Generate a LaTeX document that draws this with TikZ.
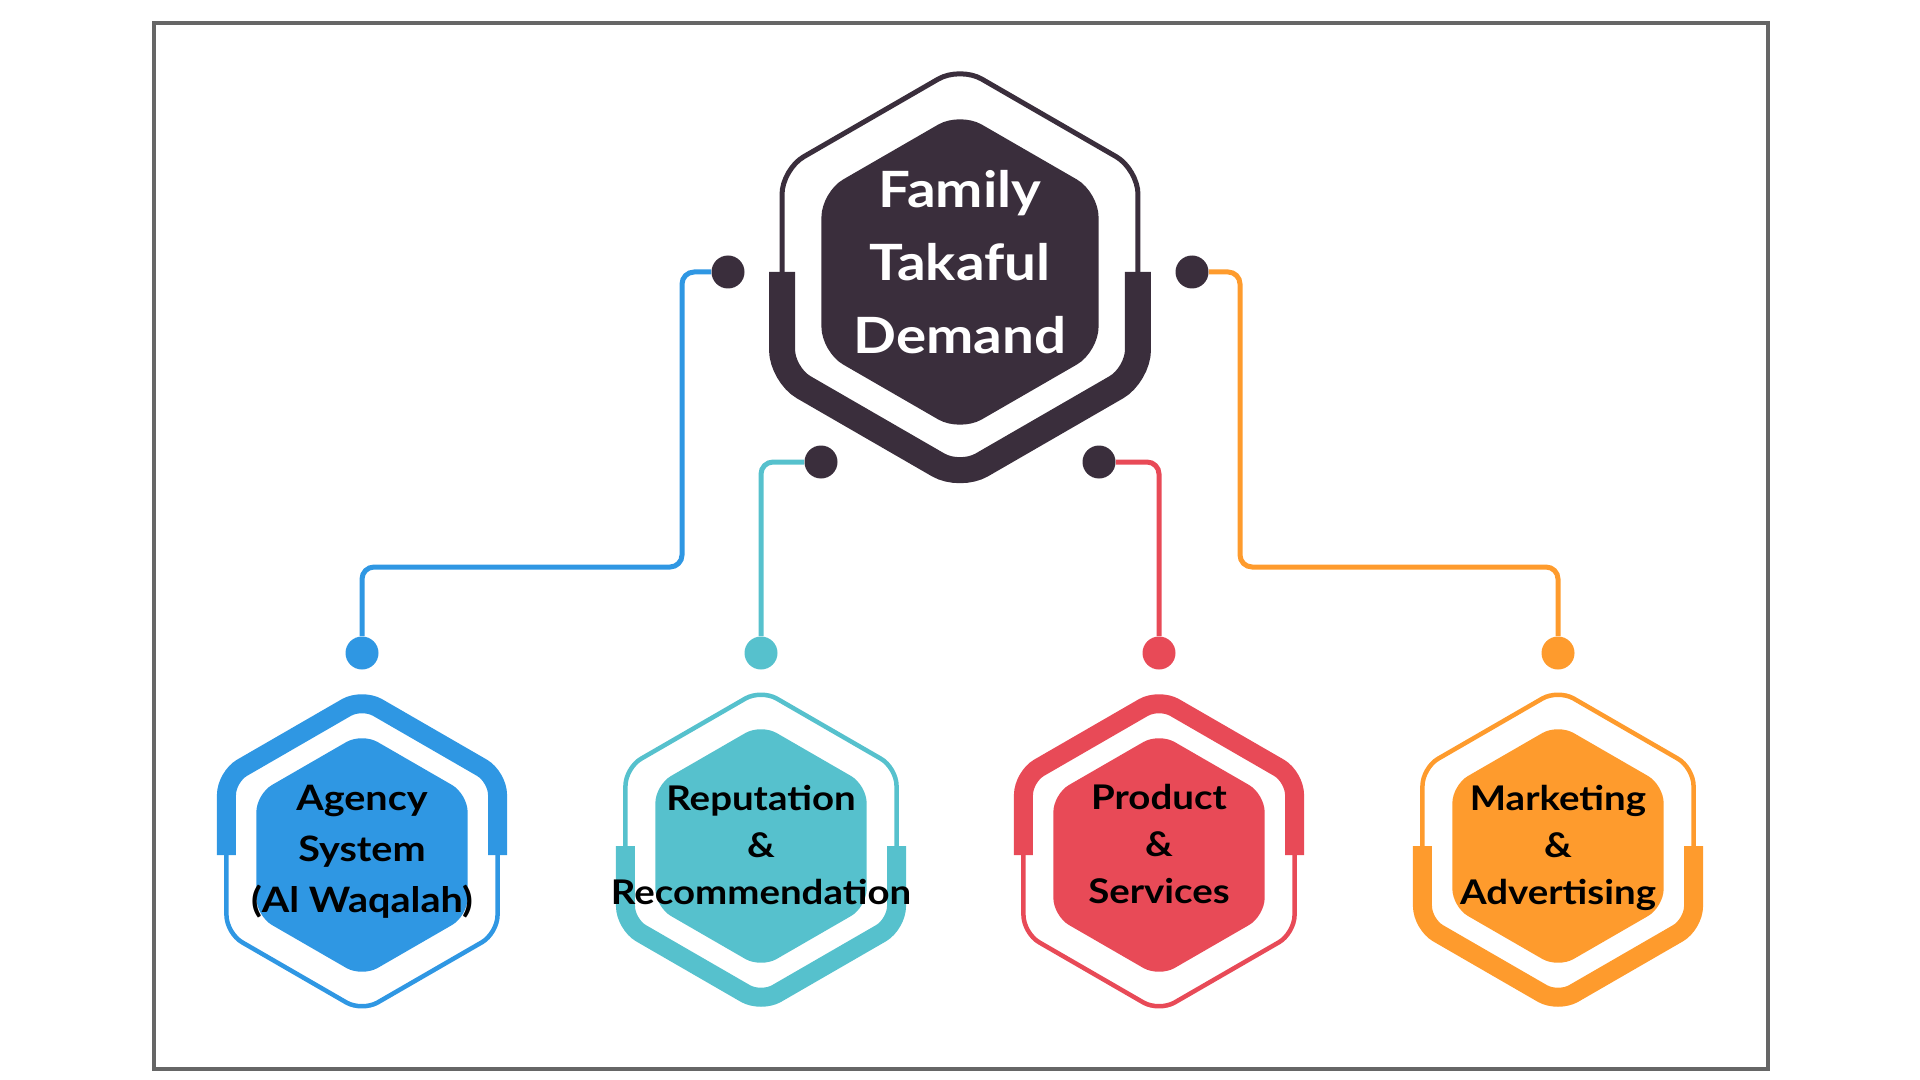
\documentclass[tikz,border=0pt]{standalone}
\usepackage{fontspec}
\setmainfont{Lato}[FakeStretch=1.13]
\definecolor{dk}{HTML}{3A2E3C}
\definecolor{cblue}{HTML}{2F97E3}
\definecolor{cteal}{HTML}{56C1CD}
\definecolor{cred}{HTML}{E84A57}
\definecolor{corange}{HTML}{FE9B2D}
\definecolor{framegray}{HTML}{666666}
% #1 cx, #2 cy, #3 R, #4 colour, #5 upper width, #6 lower width, #7 inner R, #8 corner radius
\newcommand\hexring[8]{%
  \pgfmathsetmacro\hw{0.8660254*#3}%
  \pgfmathsetmacro\hh{0.5*#3}%
  \pgfmathsetmacro\iw{0.8660254*#7}%
  \pgfmathsetmacro\ih{0.5*#7}%
  \draw[#4, line width=#5, rounded corners=#8]
    ({#1-\hw},{#2}) -- ({#1-\hw},{#2-\hh}) -- ({#1},{#2-#3}) -- ({#1+\hw},{#2-\hh}) -- ({#1+\hw},{#2});
  \draw[#4, line width=#6, rounded corners=#8]
    ({#1-\hw},{#2}) -- ({#1-\hw},{#2+\hh}) -- ({#1},{#2+#3}) -- ({#1+\hw},{#2+\hh}) -- ({#1+\hw},{#2});
  \fill[#4, rounded corners=#8]
    ({#1},{#2-#7}) -- ({#1+\iw},{#2-\ih}) -- ({#1+\iw},{#2+\ih}) -- ({#1},{#2+#7}) -- ({#1-\iw},{#2+\ih}) -- ({#1-\iw},{#2-\ih}) -- cycle;
}
\tikzset{
  dot/.style={circle, inner sep=0pt, minimum size=16.5pt},
  wire/.style={line width=2.5pt, rounded corners=6pt},
  maintext/.style={text=white, align=center, font=\fontsize{25pt}{36.5pt}\selectfont\bfseries},
  subtext/.style={text=black, align=center, font=\fontsize{17pt}{23.5pt}\selectfont\bfseries},
}
\begin{document}
\begin{tikzpicture}[x=0.5pt,y=-0.5pt]
\useasboundingbox (0,0) rectangle (1920,1080);
\draw[framegray, line width=1.75pt] (154,23) rectangle (1768,1069);

% hexagons
\hexring{960}{272}{205.5}{dk}{2.5pt}{13pt}{160}{12.5pt}
\hexring{362}{855}{156.5}{cblue}{9.5pt}{2.25pt}{122}{9pt}
\hexring{761}{846}{156.5}{cteal}{2.25pt}{9.5pt}{122}{9pt}
\hexring{1159}{855}{156.5}{cred}{9.5pt}{2.25pt}{122}{9pt}
\hexring{1558}{846}{156.5}{corange}{2.25pt}{9.5pt}{122}{9pt}

% dots
\node[dot, fill=dk] (dk1) at (728,272) {};
\node[dot, fill=dk] (dk2) at (1192,272) {};
\node[dot, fill=dk] (dk3) at (821,462) {};
\node[dot, fill=dk] (dk4) at (1099,462) {};
\node[dot, fill=cblue] (bd) at (362,653) {};
\node[dot, fill=cteal] (td) at (761,653) {};
\node[dot, fill=cred] (rd) at (1159,653) {};
\node[dot, fill=corange] (od) at (1558,653) {};
\coordinate (bbend) at (682,567);
\coordinate (obend) at (1240,567);

% connectors
\draw[wire, cblue] (dk1.west) -| (bbend) -| (bd.north);
\draw[wire, corange] (dk2.east) -| (obend) -| (od.north);
\draw[wire, cteal] (dk3.west) -| (td.north);
\draw[wire, cred] (dk4.east) -| (rd.north);

% texts
\node[maintext] (main) at (960,262) {Family\\Takaful\\Demand};
\node[subtext, font=\fontsize{17.5pt}{25.5pt}\selectfont\bfseries] (agency) at (362,852) {Agency\\System\\(Al Waqalah)};
\node[subtext] (reput) at (761,845) {Reputation\\\&\\Recommendation};
\node[subtext] (prod) at (1159,844) {Product\\\&\\Services};
\node[subtext] (mark) at (1558,848) {Marketing\\\&\\Advertising};
\end{tikzpicture}
\end{document}
